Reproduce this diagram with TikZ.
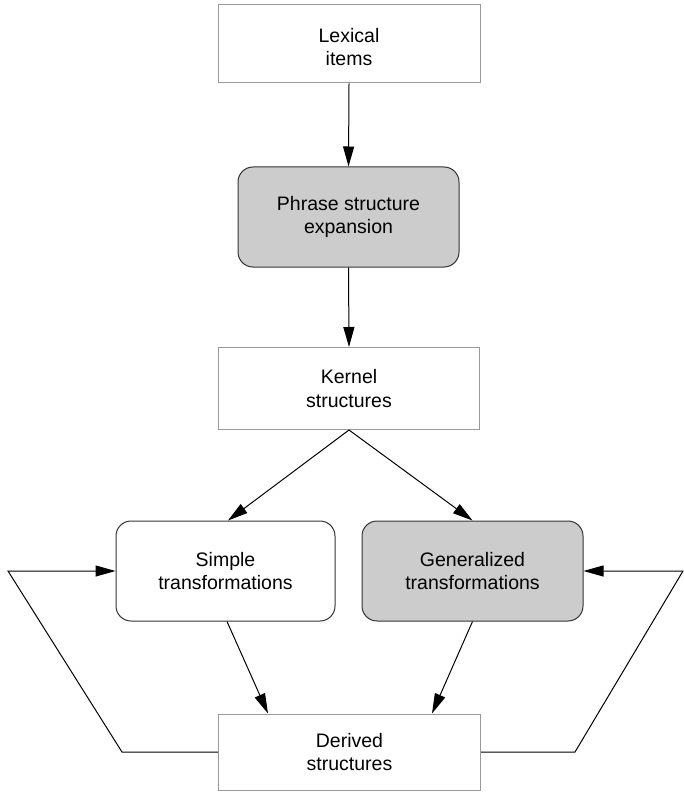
\documentclass[tikz,border=0pt]{standalone}
\usepackage{fontspec}
\setmainfont{Liberation Sans}
\usetikzlibrary{arrows.meta}
\definecolor{boxfill}{HTML}{CCCCCC}
\definecolor{rectline}{HTML}{999999}
\definecolor{roundline}{HTML}{333333}
\begin{document}
\begin{tikzpicture}[x=1pt,y=-1pt,
  txt/.style={align=center,font=\fontsize{19.5}{23.5}\selectfont,inner sep=0pt},
  sqbox/.style={txt,draw=rectline,line width=1pt,fill=white},
  rbox/.style={txt,draw=roundline,line width=1pt,rounded corners=15pt},
  conn/.style={line width=1pt,-{Triangle[length=20pt,width=11pt]}},
  plainline/.style={line width=1pt}]
\useasboundingbox (0,0) rectangle (683,794);
\node[sqbox,minimum width=262pt,minimum height=78pt] (lex) at (349,44) {\rule{0pt}{20pt}Lexical\\items};
\node[rbox,fill=boxfill,minimum width=221pt,minimum height=100pt] (phrase) at (348.5,217) {Phrase structure\\expansion};
\node[sqbox,minimum width=261pt,minimum height=82pt] (kernel) at (349,388.5) {Kernel\\structures};
\node[rbox,fill=white,minimum width=219pt,minimum height=100pt] (simple) at (225.5,571) {Simple\\transformations};
\node[rbox,fill=boxfill,minimum width=221pt,minimum height=100pt] (gen) at (472.5,571) {Generalized\\transformations};
\node[sqbox,minimum width=262pt,minimum height=76pt] (derived) at (349.5,752) {Derived\\structures};
\coordinate (lb) at (122,752);
\coordinate (lt) at (8,571);
\coordinate (rb) at (575,752);
\coordinate (rt) at (683,571);
\draw[conn] (lex.south) -- (phrase.north);
\draw[conn] (phrase.south) -- (kernel.north);
\draw[conn] (kernel.south) -- ([xshift=2.5pt]simple.north);
\draw[conn] (kernel.south) -- (gen.north);
\draw[conn] ([xshift=1.5pt]simple.south) -- ([xshift=-81.5pt]derived.north);
\draw[conn] (gen.south) -- ([xshift=82.5pt]derived.north);
\draw[conn] (derived.west) -- (lb) -- (lt) -- (simple.west);
\draw[conn] (derived.east) -- (rb) -- (rt) -- (gen.east);
\end{tikzpicture}
\end{document}
